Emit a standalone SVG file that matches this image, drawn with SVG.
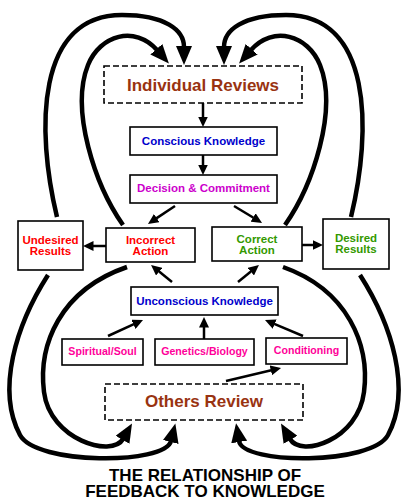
<svg xmlns="http://www.w3.org/2000/svg" width="409" height="504" viewBox="0 0 409 504">
<style>
.box{fill:#fff;stroke:#000;stroke-width:1.6}
.dash{fill:#fff;stroke:#000;stroke-width:1.6;stroke-dasharray:6,3}
text{font-family:"Liberation Sans",Arial,sans-serif;font-weight:bold;text-anchor:middle}
.big{font-size:17px;fill:#993311}
.t{font-size:11.5px}
.s{font-size:10.6px;fill:#ff0099}
.blue{fill:#0000cc}
.mag{fill:#cc00cc}
.red{fill:#ff0000}
.green{fill:#339900}
.title{font-size:17px;fill:#000}
.curve{fill:none;stroke:#000;stroke-width:4.5;stroke-linecap:butt}
.thin{fill:none;stroke:#000;stroke-width:2.5}
</style>
<defs>
<marker id="bigArrow" markerUnits="userSpaceOnUse" markerWidth="20" markerHeight="16" refX="1" refY="8" orient="auto" viewBox="0 0 20 16">
<path d="M0,0 L19,8 L0,16 z" fill="#000"/>
</marker>
<marker id="smallArrow" markerUnits="userSpaceOnUse" markerWidth="11" markerHeight="10" refX="0.5" refY="5" orient="auto" viewBox="0 0 11 10">
<path d="M0,0 L10.5,5 L0,10 z" fill="#000"/>
</marker>
</defs>
<g id="connectors">
<path class="curve" marker-end="url(#bigArrow)" d="M57,217 C36,130 36,15 122,15 C165,15 184,30 184,47"/>
<path class="curve" marker-end="url(#bigArrow)" d="M123,225 C95,185 70,110 88,65 C100,35 135,25 157,50"/>
<path class="curve" marker-end="url(#bigArrow)" d="M351,217 C372,130 372,15 286,15 C243,15 224,30 224,47"/>
<path class="curve" marker-end="url(#bigArrow)" d="M285,225 C313,185 338,110 320,65 C308,35 273,25 251,50"/>
<path class="curve" marker-end="url(#bigArrow)" d="M48,275 C16,325 -4,390 20,435 C36,465 165,465 171,441"/>
<path class="curve" marker-end="url(#bigArrow)" d="M127,267 C60,290 38,345 44,392 C50,440 112,458 123,439"/>
<path class="curve" marker-end="url(#bigArrow)" d="M360,275 C392,325 412,390 388,435 C372,465 243,465 239,441"/>
<path class="curve" marker-end="url(#bigArrow)" d="M283,267 C348,290 370,345 364,392 C358,440 301,458 290,439"/>
<path class="thin" marker-end="url(#smallArrow)" d="M203,103 L203,117"/>
<path class="thin" marker-end="url(#smallArrow)" d="M203,155 L203,165"/>
<path class="thin" marker-end="url(#smallArrow)" d="M175,206 L156.3,218.4"/>
<path class="thin" marker-end="url(#smallArrow)" d="M234,206 L253.5,217.8"/>
<path class="thin" marker-end="url(#smallArrow)" d="M106,246 L93,246"/>
<path class="thin" marker-end="url(#smallArrow)" d="M302,245 L313,245"/>
<path class="thin" marker-end="url(#smallArrow)" d="M172,282 L158.8,271.3"/>
<path class="thin" marker-end="url(#smallArrow)" d="M238,282 L251.2,271.3"/>
<path class="thin" marker-end="url(#smallArrow)" d="M108,336 L133.9,324.2"/>
<path class="thin" marker-end="url(#smallArrow)" d="M204,339 L204,327"/>
<path class="thin" marker-end="url(#smallArrow)" d="M303,336 L274.2,323.9"/>
<path class="thin" marker-end="url(#smallArrow)" d="M226,381 L271.3,370.3"/>
</g>
<g id="individual-reviews">
<rect class="dash" x="104" y="66" width="198" height="37"/>
<text class="big" x="203" y="91">Individual Reviews</text>
</g>
<g id="conscious-knowledge">
<rect class="box" x="130" y="127" width="147" height="28"/>
<text class="t blue" x="203.5" y="145">Conscious Knowledge</text>
</g>
<g id="decision-commitment">
<rect class="box" x="130" y="175" width="147" height="28"/>
<text class="t mag" x="203.5" y="192">Decision &amp; Commitment</text>
</g>
<g id="incorrect-action">
<rect class="box" x="106" y="228" width="89" height="34"/>
<text class="t red" x="150.5" y="244">Incorrect</text>
<text class="t red" x="150.5" y="255">Action</text>
</g>
<g id="correct-action">
<rect class="box" x="212" y="227" width="90" height="34"/>
<text class="t green" x="257" y="243">Correct</text>
<text class="t green" x="257" y="254">Action</text>
</g>
<g id="undesired-results">
<rect class="box" x="18" y="221" width="65" height="49"/>
<text class="t red" x="50.5" y="244">Undesired</text>
<text class="t red" x="50.5" y="255">Results</text>
</g>
<g id="desired-results">
<rect class="box" x="323" y="219" width="66" height="50"/>
<text class="t green" x="356" y="242">Desired</text>
<text class="t green" x="356" y="253">Results</text>
</g>
<g id="unconscious-knowledge">
<rect class="box" x="131" y="287" width="147" height="28"/>
<text class="t blue" x="204.5" y="305">Unconscious Knowledge</text>
</g>
<g id="spiritual-soul">
<rect class="box" x="62" y="339" width="81" height="26"/>
<text class="s" x="102.5" y="355">Spiritual/Soul</text>
</g>
<g id="genetics-biology">
<rect class="box" x="155" y="339" width="99" height="26"/>
<text class="s" x="204.5" y="355">Genetics/Biology</text>
</g>
<g id="conditioning">
<rect class="box" x="266" y="338" width="81" height="26"/>
<text class="s" x="306.5" y="354">Conditioning</text>
</g>
<g id="others-review">
<rect class="dash" x="105" y="384" width="198" height="36"/>
<text class="big" x="204" y="407">Others Review</text>
</g>
<g id="title">
<text class="title" x="205" y="481">THE RELATIONSHIP OF</text>
<text class="title" x="205" y="497">FEEDBACK TO KNOWLEDGE</text>
</g>
</svg>
